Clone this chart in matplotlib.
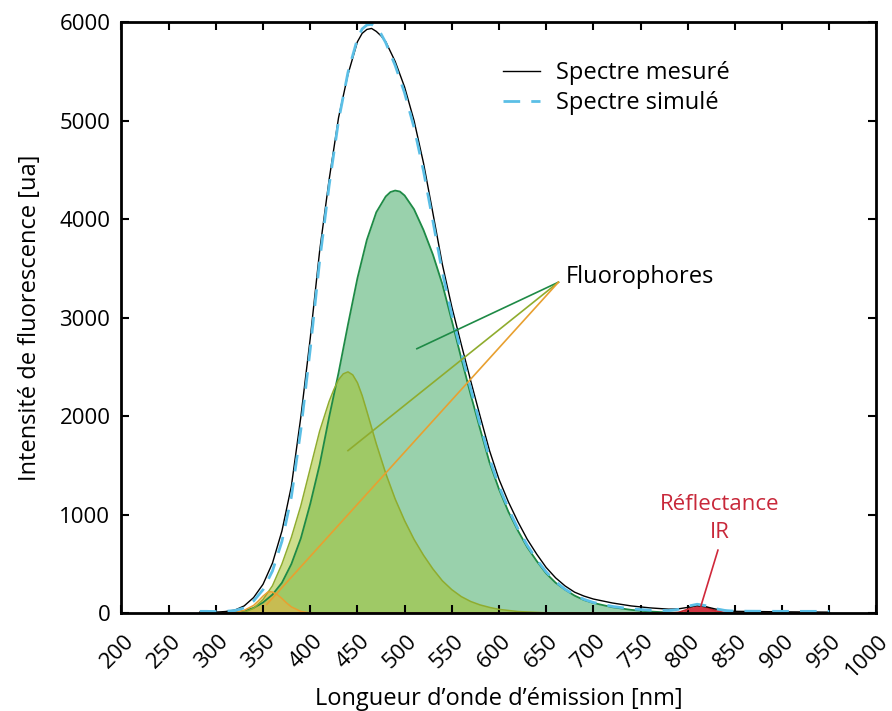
import numpy as np
import matplotlib
matplotlib.use("Agg")
from matplotlib import pyplot as plt
from matplotlib import transforms

plt.rcParams['font.family'] = ['Open Sans', 'DejaVu Sans']

# ---- data (wavelength nm -> intensity ua) ----
wl_spec = [283, 290, 300, 310, 320, 330, 340, 350, 360, 370, 380, 390, 400, 410, 420,
           430, 440, 450, 455, 460, 465, 470, 475, 480, 490, 500, 510, 520, 530, 540,
           550, 560, 570, 580, 590, 600, 610, 620, 630, 640, 650, 660, 670, 680, 690,
           700, 720, 740, 760, 780, 790, 800, 810, 820, 830, 840, 850, 900, 950]
measured = [12, 12, 12, 18, 32, 75, 160, 295, 510, 835, 1290, 1990, 2790, 3680, 4400,
            5030, 5470, 5800, 5885, 5925, 5935, 5905, 5860, 5800, 5600, 5340, 5000, 4570, 4060, 3540,
            3110, 2730, 2360, 2000, 1650, 1360, 1130, 930, 750, 600, 465, 360, 278, 215, 175,
            145, 105, 75, 55, 42, 45, 60, 78, 65, 42, 28, 20, 15, 12]
simulated = [20, 20, 18, 20, 28, 55, 125, 240, 430, 730, 1180, 1860, 2680, 3580, 4340,
             5000, 5490, 5830, 5930, 5970, 5977, 5945, 5880, 5790, 5560, 5280, 4930, 4490, 3980, 3460,
             3030, 2650, 2280, 1920, 1570, 1290, 1060, 860, 690, 545, 420, 322, 245, 187, 142,
             110, 70, 45, 32, 28, 40, 72, 92, 76, 46, 28, 22, 20, 20]

wl_green = [283, 300, 310, 320, 330, 340, 350, 360, 370, 380, 390, 400, 410, 420, 430,
            440, 450, 460, 470, 480, 485, 490, 495, 500, 510, 520, 530, 540, 550, 560,
            570, 580, 590, 600, 610, 620, 630, 640, 650, 660, 670, 680, 690, 700, 720,
            740, 760, 780, 800, 850, 950]
green = [0, 0, 5, 10, 25, 55, 110, 190, 310, 500, 760, 1110, 1510, 1990, 2440,
         2930, 3400, 3790, 4070, 4230, 4275, 4290, 4280, 4240, 4100, 3890, 3640, 3340, 2970, 2590,
         2220, 1870, 1530, 1260, 1030, 840, 670, 530, 405, 310, 240, 180, 135, 105, 62,
         35, 18, 8, 3, 0, 0]

wl_yg = [283, 320, 330, 340, 350, 360, 370, 380, 390, 400, 410, 420, 425, 430, 435,
         440, 445, 450, 455, 460, 470, 480, 490, 500, 510, 520, 530, 540, 550, 560,
         570, 580, 590, 600, 620, 650, 700, 950]
yellowgreen = [0, 0, 10, 50, 140, 280, 500, 770, 1090, 1470, 1850, 2150, 2270, 2370, 2430,
               2450, 2420, 2340, 2210, 2050, 1720, 1420, 1160, 940, 750, 590, 450, 330, 240, 170,
               120, 85, 60, 40, 18, 5, 0, 0]

wl_orange = [283, 310, 320, 330, 340, 345, 350, 355, 358, 360, 365, 370, 375, 380, 390,
             400, 410, 950]
orange = [0, 0, 8, 30, 80, 125, 175, 215, 219, 215, 190, 150, 105, 65, 20,
          3, 0, 0]

wl_red = [283, 780, 790, 800, 805, 810, 815, 820, 830, 840, 850, 950]
red = [0, 0, 8, 40, 65, 80, 78, 60, 25, 6, 0, 0]

# annotation anchors (data units)
fluo_hub = (663, 3360)
fluo_ends = [(513, 2685), (440, 1651), (354, 91)]
fluo_cols = ['#1e8a46', '#8fac2e', '#e8a030']
ir_line = [(832, 641), (814, 75)]

fig = plt.figure(figsize=(8.92, 7.11), dpi=100)
ax = fig.add_axes([0.1362, 0.1374, 0.8464, 0.8316])

# components
ax.fill_between(wl_green, green, color='#35a55a', alpha=0.5, lw=0)
ax.plot(wl_green, green, color='#1e8a46', lw=1.3)
ax.fill_between(wl_yg, yellowgreen, color='#a4c32e', alpha=0.55, lw=0)
ax.plot(wl_yg, yellowgreen, color='#8fac2e', lw=1.1)
ax.fill_between(wl_orange, orange, color='#f0b040', alpha=0.5, lw=0)
ax.plot(wl_orange, orange, color='#e8a030', lw=1.1)
ax.fill_between(wl_red, red, color='#cf2030', alpha=0.9, lw=0)
ax.plot(wl_red, red, color='#c8282e', lw=1.3)

# spectra
ax.plot(wl_spec, measured, color='black', lw=1.0, label='Spectre mesuré')
ax.plot(wl_spec, simulated, color='#5bbfe6', lw=2.0, dashes=(6, 4), label='Spectre simulé')

# annotations
for end, c in zip(fluo_ends, fluo_cols):
    ax.plot([fluo_hub[0], end[0]], [fluo_hub[1], end[1]], color=c, lw=1.2)
ax.text(671, 3410, 'Fluorophores', fontsize=17, va='center', ha='left')
ax.plot([p[0] for p in ir_line], [p[1] for p in ir_line], color='#d0283a', lw=1.2)
ax.text(834, 1105, 'Réflectance', fontsize=16, color='#c8283a', ha='center', va='center')
ax.text(834, 815, 'IR', fontsize=16, color='#c8283a', ha='center', va='center')

ax.set_xlim(200, 1000)
ax.set_ylim(0, 6000)
ax.set_xticks(range(200, 1001, 50))
ax.set_yticks(range(0, 6001, 1000))
ax.tick_params(direction='in', top=True, right=True, length=6, width=1.5,
               labelsize=16)
ax.tick_params(axis='x', pad=20.5)
ax.tick_params(axis='y', pad=8)
shift = transforms.ScaledTranslation(13 / 100, 0, fig.dpi_scale_trans)
for lab in ax.get_xticklabels():
    lab.set_rotation(45)
    lab.set_ha('right')
    lab.set_va('baseline')
    lab.set_rotation_mode('anchor')
    lab.set_transform(lab.get_transform() + shift)
for s in ax.spines.values():
    s.set_linewidth(2)

ax.set_xlabel("Longueur d’onde d’émission [nm]", fontsize=17)
ax.set_ylabel('Intensité de fluorescence [ua]', fontsize=17)
ax.xaxis.label.set_va('baseline')
ax.xaxis.set_label_coords(0.5, -0.155)
ax.yaxis.set_label_coords(-0.105, 0.5)

ax.legend(loc='upper left', bbox_to_anchor=(0.505, 0.934), frameon=False, fontsize=17,
          handlelength=1.57, handletextpad=0.68, labelspacing=0.27,
          borderpad=0, borderaxespad=0)

plt.savefig('out.png', dpi=100)
